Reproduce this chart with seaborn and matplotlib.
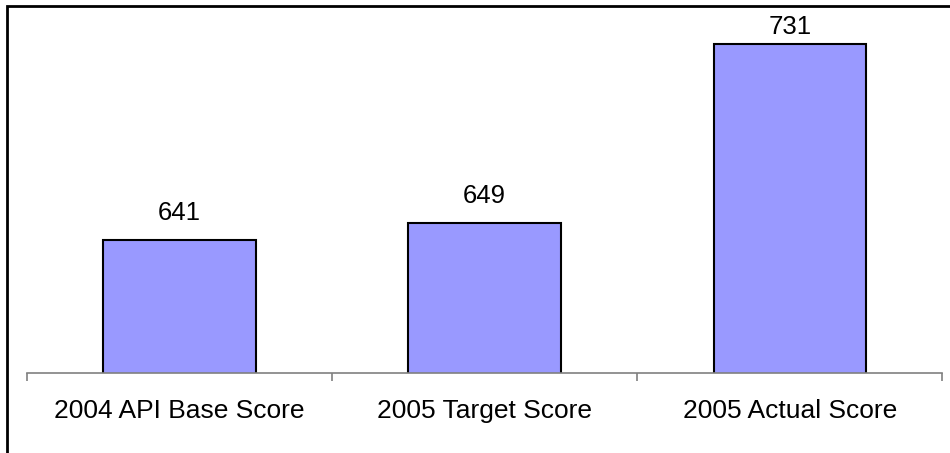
import matplotlib
matplotlib.use("Agg")
import matplotlib.pyplot as plt
from matplotlib.patches import Rectangle
import seaborn as sns

# values
categories = ["2004 API Base Score", "2005 Target Score", "2005 Actual Score"]
scores = [641, 649, 731]

sns.set_style("white")
plt.rcParams["font.family"] = ["Liberation Sans", "DejaVu Sans"]
plt.rcParams["text.color"] = "black"
plt.rcParams["xtick.labelcolor"] = "black"

fig = plt.figure(figsize=(9.5, 4.53), dpi=100)
ax = fig.add_axes([0.0284, 0.176, 0.9637, 0.7704])

sns.barplot(x=categories, y=scores, color="#9999FF", saturation=1,
            edgecolor="black", linewidth=1.5, width=0.5, ax=ax)

ax.set_ylim(580, 740)
ax.set_xlim(-0.5, len(categories) - 0.5)

# value labels above the bars, pushed down when they would leave the chart
fig_h = fig.bbox.height
for i, v in enumerate(scores):
    top_px = ax.transData.transform((i, v))[1]
    y_px = min(top_px + 20, fig_h - 34.5)
    y = ax.transData.inverted().transform((0, y_px))[1]
    ax.text(i, y, str(v), ha="center", va="baseline", fontsize=18.5,
            color="black")

# axis styling: only a grey baseline with ticks between categories
for side in ["left", "right", "top"]:
    ax.spines[side].set_visible(False)
ax.spines["bottom"].set_color("#808080")
ax.spines["bottom"].set_linewidth(1.2)
ax.set_yticks([])
ax.set_xticks(range(len(categories)))
ax.set_xticklabels(categories, fontsize=19)
ax.set_xticks([i - 0.5 for i in range(len(categories) + 1)], minor=True)
ax.tick_params(axis="x", which="major", length=0, pad=18.5)
ax.tick_params(axis="x", which="minor", length=6, width=1.2, color="#808080",
               bottom=True)
ax.set_xlabel("")
ax.set_ylabel("")

# outer frame around the chart
fig.add_artist(Rectangle((6.5 / 950, -0.05), 1.0, 0.05 + 1 - 6 / 453,
                         transform=fig.transFigure, fill=False,
                         edgecolor="black", linewidth=2))

fig.savefig("out.png", dpi=100)
